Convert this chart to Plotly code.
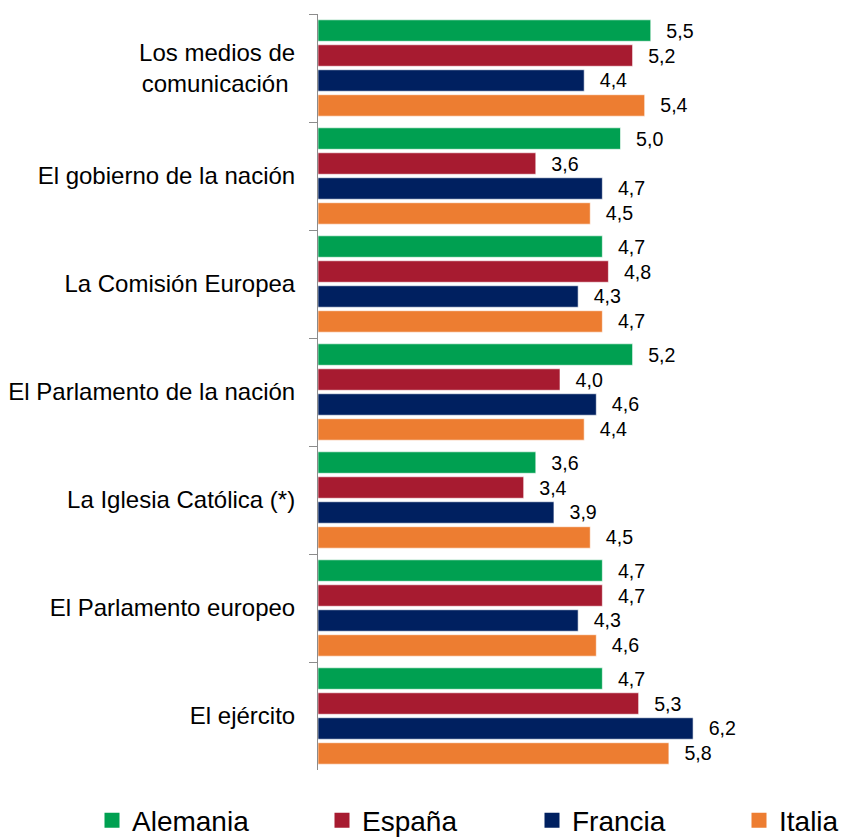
import plotly.graph_objects as go

categories = [
    "Los medios de<br>comunicación\u00a0",
    "El gobierno de la nación",
    "La Comisión Europea",
    "El Parlamento de la nación",
    "La Iglesia Católica (*)",
    "El Parlamento europeo",
    "El ejército",
]
series_names = ["Alemania", "España", "Francia", "Italia"]
alemania = [5.5, 5.0, 4.7, 5.2, 3.6, 4.7, 4.7]
espana = [5.2, 3.6, 4.8, 4.0, 3.4, 4.7, 5.3]
francia = [4.4, 4.7, 4.3, 4.6, 3.9, 4.3, 6.2]
italia = [5.4, 4.5, 4.7, 4.4, 4.5, 4.6, 5.8]
colors = ["#00A051", "#A71B30", "#002060", "#ED7D31"]

FONT = "Liberation Sans, Arial, sans-serif"
W, H = 844, 839
legend_x = [92, 322, 532, 739]  # container px of each legend entry

fig = go.Figure()
for i, (name, vals, col) in enumerate(zip(series_names, [alemania, espana, francia, italia], colors)):
    fig.add_trace(go.Bar(
        name=name,
        y=categories,
        x=vals,
        orientation="h",
        marker=dict(color=col, line=dict(color="rgba(255,255,255,0.6)", width=1)),
        text=["\u00a0\u00a0\u200a" + f"{v:.1f}".replace(".", ",") for v in vals],
        textposition="outside",
        textfont=dict(family=FONT, size=21, color="#000000"),
        cliponaxis=False,
        showlegend=False,
    ))
    # legend-only entry with a larger square swatch
    lg = "legend" if i == 0 else f"legend{i+1}"
    fig.add_trace(go.Scatter(
        name=name,
        x=[None],
        y=[None],
        mode="markers",
        marker=dict(symbol="square", size=15, color=col),
        showlegend=True,
        legend=lg,
        hoverinfo="skip",
    ))

legend_common = dict(
    orientation="h",
    xref="container",
    yref="container",
    xanchor="left",
    y=1 - 820.5 / H,
    yanchor="middle",
    font=dict(family=FONT, size=28, color="#000000"),
    itemsizing="trace",
    bgcolor="rgba(0,0,0,0)",
)

layout_legends = {}
for i, lx in enumerate(legend_x):
    key = "legend" if i == 0 else f"legend{i+1}"
    layout_legends[key] = dict(legend_common, x=lx / W)

fig.update_layout(
    width=W,
    height=H,
    margin=dict(l=318, r=42, t=14, b=69, autoexpand=False),
    paper_bgcolor="white",
    plot_bgcolor="white",
    barmode="group",
    bargap=0.075,
    bargroupgap=0.14,
    font=dict(family=FONT, color="#000000"),
    xaxis=dict(range=[0, 8], visible=False),
    yaxis=dict(
        autorange="reversed",
        automargin=False,
        showline=True,
        linecolor="#8C8C8C",
        linewidth=1,
        ticks="outside",
        ticklen=8,
        tickcolor="#8C8C8C",
        tickson="boundaries",
        ticklabelstandoff=17,
        tickfont=dict(family=FONT, size=24, color="#000000"),
        showgrid=False,
        zeroline=False,
    ),
    showlegend=True,
    **layout_legends,
)

fig.write_html(
    "out.html",
    config={"displayModeBar": False},
    post_script="document.body.style.margin='0';document.body.style.padding='0';",
)
